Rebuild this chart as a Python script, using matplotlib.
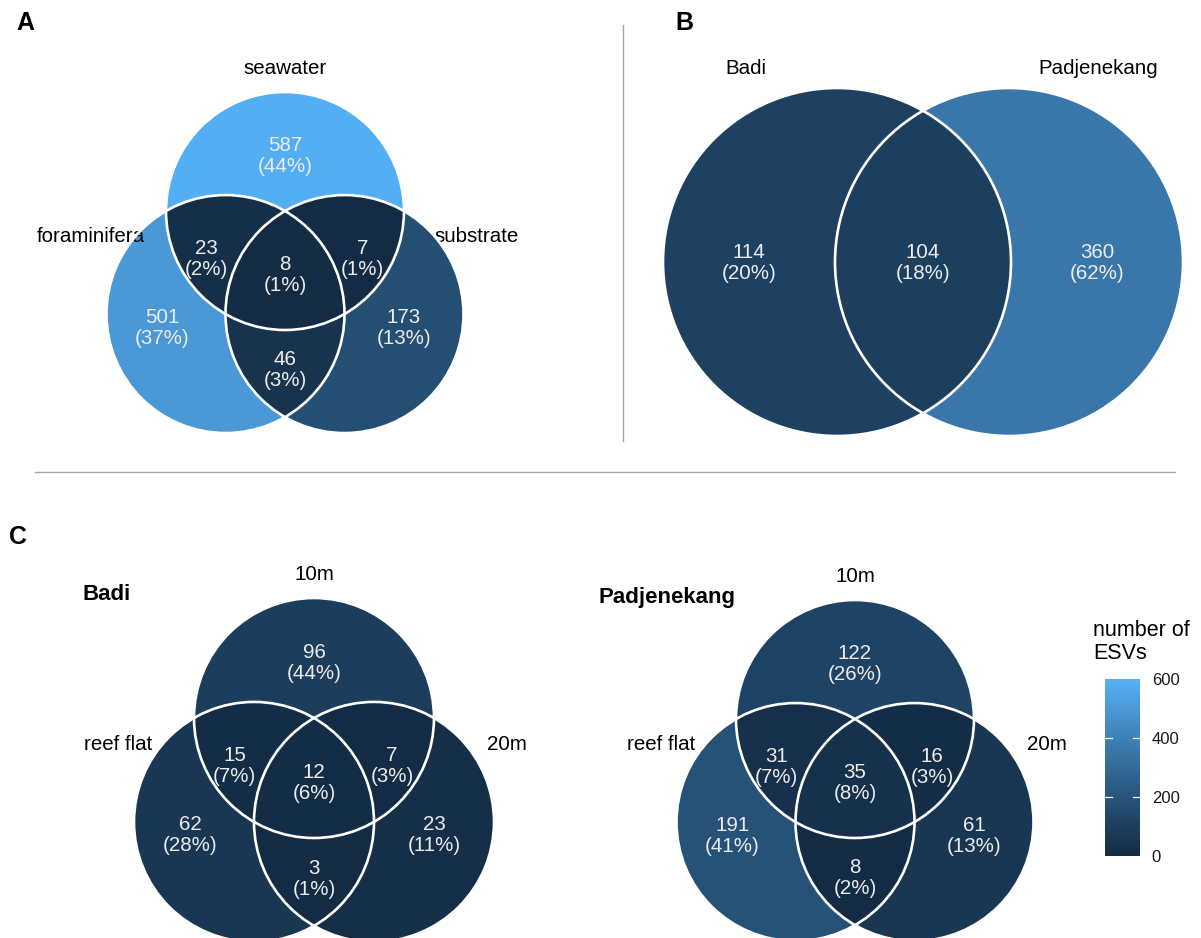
import numpy as np
import matplotlib
matplotlib.use('Agg')
import matplotlib.pyplot as plt
from matplotlib.colors import ListedColormap, Normalize
from matplotlib.cm import ScalarMappable
from matplotlib.patches import Circle

plt.rcParams['font.family'] = ['Liberation Sans', 'DejaVu Sans']

# ESV counts per Venn region
# 3-set order: top only, left only, right only, top+left, top+right, left+right, all
keys3 = [(0,), (1,), (2,), (0, 1), (0, 2), (1, 2), (0, 1, 2)]
sets_a = ['seawater', 'foraminifera', 'substrate']
counts_a = [587, 501, 173, 23, 7, 46, 8]

keys2 = [(0,), (1,), (0, 1)]
sets_b = ['Badi', 'Padjenekang']
counts_b = [114, 360, 104]

sets_c = ['10m', 'reef flat', '20m']
counts_badi = [96, 62, 23, 15, 7, 3, 12]
counts_padj = [122, 191, 61, 31, 16, 8, 35]


# ggplot-style gradient, interpolated in CIELAB
def srgb_to_lab(rgb):
    c = np.asarray(rgb, float)
    lin = np.where(c <= 0.04045, c / 12.92, ((c + 0.055) / 1.055) ** 2.4)
    M = np.array([[0.4124564, 0.3575761, 0.1804375],
                  [0.2126729, 0.7151522, 0.0721750],
                  [0.0193339, 0.1191920, 0.9503041]])
    xyz = M @ lin / np.array([0.95047, 1.0, 1.08883])
    d = 6 / 29
    f = np.where(xyz > d ** 3, np.cbrt(xyz), xyz / (3 * d ** 2) + 4 / 29)
    return np.array([116 * f[1] - 16, 500 * (f[0] - f[1]), 200 * (f[1] - f[2])])


def lab_to_srgb(lab):
    L, a, b = lab
    fy = (L + 16) / 116
    fx = fy + a / 500
    fz = fy - b / 200
    d = 6 / 29
    f = np.array([fx, fy, fz])
    xyz = np.where(f > d, f ** 3, 3 * d ** 2 * (f - 4 / 29)) * np.array([0.95047, 1.0, 1.08883])
    Minv = np.array([[3.2404542, -1.5371385, -0.4985314],
                     [-0.9692660, 1.8760108, 0.0415560],
                     [0.0556434, -0.2040259, 1.0572252]])
    lin = np.clip(Minv @ xyz, 0, 1)
    c = np.where(lin <= 0.0031308, 12.92 * lin, 1.055 * lin ** (1 / 2.4) - 0.055)
    return np.clip(c, 0, 1)


def hex_rgb(h):
    return [int(h[i:i + 2], 16) / 255 for i in (1, 3, 5)]


lo, hi = srgb_to_lab(hex_rgb('#132B43')), srgb_to_lab(hex_rgb('#56B1F7'))
cmap = ListedColormap([lab_to_srgb(lo + t * (hi - lo)) for t in np.linspace(0, 1, 256)])
cmap.set_bad((1, 1, 1, 0))
norm = Normalize(0, 600)

W, H = 1201, 938
fig = plt.figure(figsize=(W / 100, H / 100), dpi=100)
ax = fig.add_axes([0, 0, 1, 1])
ax.set_xlim(0, W)
ax.set_ylim(H, 0)
ax.axis('off')

SS = 2
ys, xs = np.mgrid[0:H * SS, 0:W * SS]
xs = (xs + 0.5) / SS
ys = (ys + 0.5) / SS
field = np.full(xs.shape, np.nan)

LABEL_FS = 14.8
SET_FS = 14.8

# label anchors (units of r) relative to the top circle centre
anchors3 = [(0, -0.57), (-1.03, 0.87), (1.0, 0.87), (-0.66, 0.29),
            (0.65, 0.29), (0, 1.23), (0, 0.43)]
# relative to the midpoint of the two centres
anchors2 = [(-1.0, -0.07), (1.0, -0.07), (0, -0.07)]


def venn(centers, r, keys, counts, anchors, origin):
    total = sum(counts)
    inside = [(xs - cx) ** 2 + (ys - cy) ** 2 <= r ** 2 for cx, cy in centers]
    for key, n, (ax_, ay_) in zip(keys, counts, anchors):
        mask = np.ones(xs.shape, bool)
        for i in range(len(centers)):
            mask &= inside[i] if i in key else ~inside[i]
        field[mask] = n
        mx = origin[0] + ax_ * r
        my = origin[1] + ay_ * r
        pct = 100 * n / total
        ax.text(mx, my + 8, f'{n}', ha='center', va='baseline',
                fontsize=LABEL_FS, color='#ececec', zorder=5)
        ax.text(mx, my + 29, f'({pct:.0f}%)', ha='center', va='baseline',
                fontsize=LABEL_FS, color='#ececec', zorder=5)
    for cx, cy in centers:
        ax.add_patch(Circle((cx, cy), r, fill=False, ec='white', lw=1.9, zorder=4))


def triple(cx, cy0, r, names, counts):
    h = r * np.sqrt(3) / 2
    centers = [(cx, cy0), (cx - r / 2, cy0 + h), (cx + r / 2, cy0 + h)]
    venn(centers, r, keys3, counts, anchors3, (cx, cy0))
    ax.text(cx, cy0 - r - 24, names[0], ha='center', va='center', fontsize=SET_FS)
    ax.text(cx - 1.63 * r, cy0 + 26, names[1], ha='center', va='center', fontsize=SET_FS)
    ax.text(cx + 1.61 * r, cy0 + 26, names[2], ha='center', va='center', fontsize=SET_FS)


# A: sample types
triple(285, 211, 119, sets_a, counts_a)

# B: sites
cb = [(837, 262), (1009, 262)]
venn(cb, 174, keys2, counts_b, anchors2, (923, 262))
ax.text(cb[0][0] - 91, 68, sets_b[0], ha='center', va='center', fontsize=SET_FS)
ax.text(cb[1][0] + 89, 68, sets_b[1], ha='center', va='center', fontsize=SET_FS)

# C: depth per site
triple(314, 718, 120, sets_c, counts_badi)
triple(855, 719, 119, sets_c, counts_padj)

ax.imshow(field, cmap=cmap, norm=norm, extent=(0, W, H, 0),
          interpolation='nearest', zorder=1)
ax.set_xlim(0, W)
ax.set_ylim(H, 0)

ax.text(83, 595, 'Badi', ha='left', va='center', fontsize=16, fontweight='bold')
ax.text(598, 597, 'Padjenekang', ha='left', va='center', fontsize=16, fontweight='bold')

# panel letters and separators
ax.text(16, 23, 'A', ha='left', va='center', fontsize=18, fontweight='bold')
ax.text(675, 23, 'B', ha='left', va='center', fontsize=18, fontweight='bold')
ax.text(9, 537, 'C', ha='left', va='center', fontsize=18, fontweight='bold')
ax.plot([623, 623], [25, 441], color='#a6a6a6', lw=1.0)
ax.plot([35, 1175], [472, 472], color='#a6a6a6', lw=1.0)

# colour legend
cax = fig.add_axes([1105 / W, 1 - 856 / H, 35 / W, 177 / H])
cbar = fig.colorbar(ScalarMappable(norm=norm, cmap=cmap), cax=cax, ticks=[0, 200, 400, 600])
cbar.outline.set_visible(False)
cax.tick_params(length=0, labelsize=12, pad=8.5, colors='#1a1a1a')
for v in [200, 400]:
    cax.plot([0, 0.2], [v, v], color='white', lw=0.9)
    cax.plot([0.8, 1], [v, v], color='white', lw=0.9)
ax.text(1093, 642, 'number of\nESVs', ha='left', va='center', fontsize=15.5,
        linespacing=1.1)

fig.savefig('out.png', dpi=100)
